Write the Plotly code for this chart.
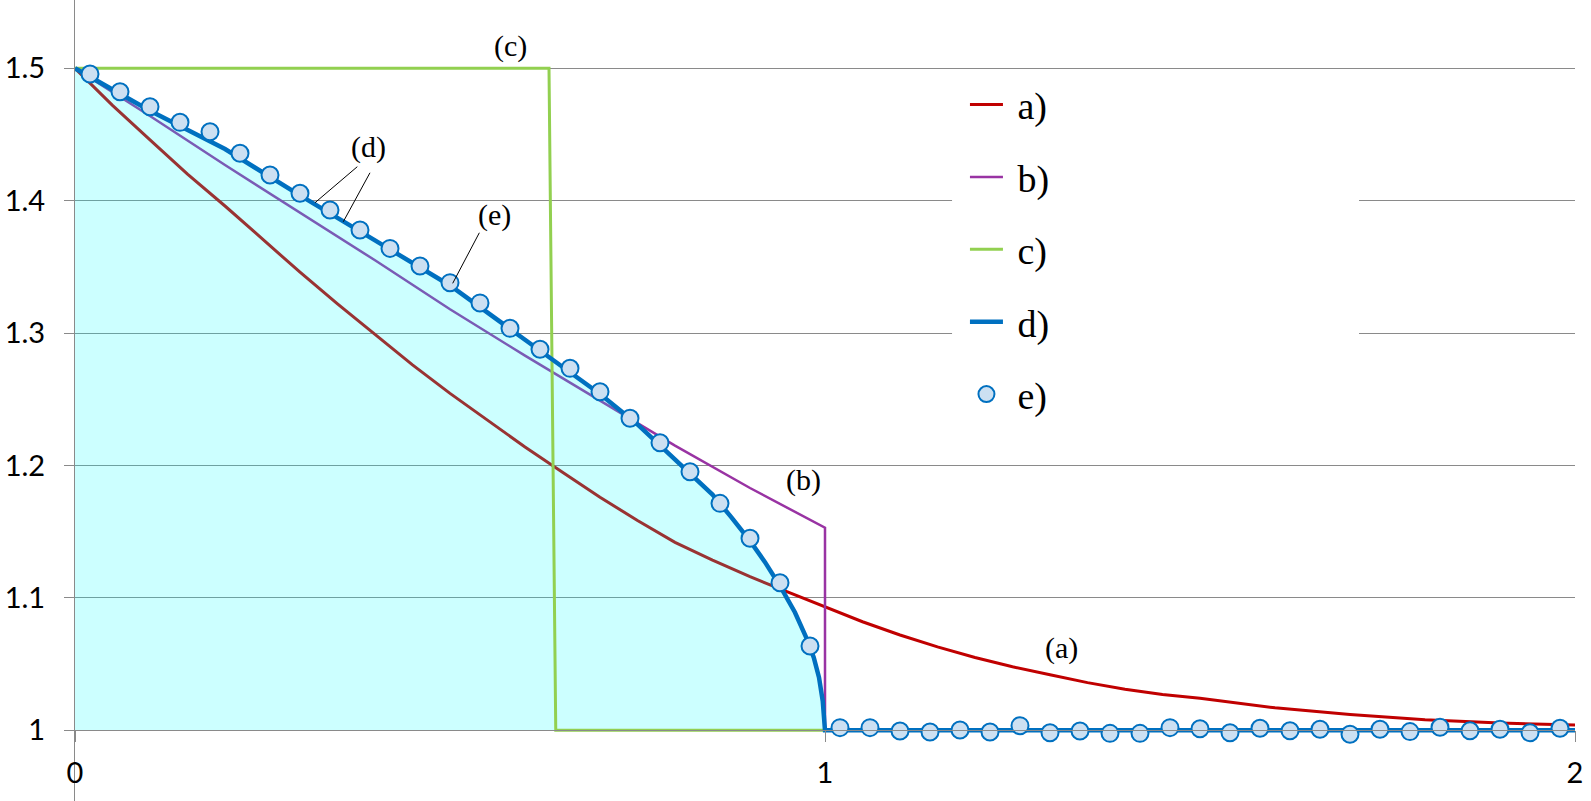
import plotly.graph_objects as go

# ---- data ----
a_x = [0, 0.05, 0.1, 0.15, 0.2, 0.25, 0.3, 0.35, 0.4, 0.45, 0.5, 0.55, 0.6, 0.65, 0.7, 0.75,
       0.8, 0.85, 0.9, 0.95, 1.0, 1.05, 1.1, 1.15, 1.2, 1.25, 1.3, 1.35, 1.4, 1.45, 1.5,
       1.6, 1.7, 1.8, 1.9, 2.0]
a_y = [1.5, 1.472, 1.446, 1.420, 1.396, 1.371, 1.346, 1.322, 1.299, 1.276, 1.2545, 1.234,
       1.214, 1.195, 1.176, 1.1585, 1.142, 1.1285, 1.116, 1.1045, 1.0934, 1.082, 1.072, 1.063,
       1.055, 1.048, 1.042, 1.036, 1.031, 1.027, 1.0242, 1.017, 1.012, 1.008, 1.0055, 1.004]

b_x = [0, 0.1, 0.2, 0.3, 0.4, 0.5, 0.6, 0.7, 0.8, 0.9, 1.0, 1.0]
b_y = [1.5, 1.464, 1.427, 1.391, 1.355, 1.318, 1.283, 1.249, 1.215, 1.183, 1.153, 1.0]

c_x = [0, 0.632, 0.641, 1.0]
c_y = [1.5, 1.5, 1.0, 1.0]

d_x = [0, 0.05, 0.1, 0.2, 0.3, 0.4, 0.5, 0.6, 0.7, 0.75, 0.8, 0.85, 0.875, 0.9, 0.92,
       0.94, 0.96, 0.975, 0.985, 0.992, 0.997, 1.0, 2.0]
d_y = [1.5, 1.484, 1.468, 1.439, 1.404, 1.370, 1.336, 1.295, 1.254, 1.231, 1.205, 1.178,
       1.161, 1.143, 1.127, 1.109, 1.089, 1.070, 1.055, 1.040, 1.022, 1.0, 1.0]

e_x = [round(0.02 + 0.04 * i, 2) for i in range(50)]
e_y = [1.4957, 1.4823, 1.4710, 1.4592, 1.4521, 1.4358, 1.4194, 1.4056, 1.3930, 1.3779,
       1.3640, 1.3507, 1.3381, 1.3228, 1.3036, 1.2878, 1.2734, 1.2557, 1.2357, 1.2172,
       1.1953, 1.1714, 1.1450, 1.1115, 1.0637,
       1.0020, 1.0020, 0.9995, 0.9987, 1.0002, 0.9987, 1.0035, 0.9982, 0.9995, 0.9977,
       0.9977, 1.0020, 1.0012, 0.9982, 1.0015, 0.9997, 1.0008, 0.9970, 1.0008, 0.9990,
       1.0023, 0.9997, 1.0008, 0.9982, 1.0015]

series_names = ["a)", "b)", "c)", "d)", "e)"]

y_ticks = [1.0, 1.1, 1.2, 1.3, 1.4, 1.5]
y_ticktext = ["1", "1.1", "1.2", "1.3", "1.4", "1.5"]
x_ticks = [0, 1, 2]
x_ticktext = ["0", "1", "2"]

Y_RANGE = [0.9466, 1.5516]

RED = "#C00000"
PURPLE = "#9933A3"
GREEN = "#92D050"
BLUE = "#0070C0"
GRID = "#8A8A8A"
SERIF = "Liberation Serif, Times New Roman, serif"
SANS = "Lato, Open Sans, sans-serif"
NB = "\u00a0"

fig = go.Figure()

fig.add_trace(go.Scatter(x=a_x, y=a_y, mode="lines", name=NB + series_names[0], legendgroup="a",
                         line=dict(color=RED, width=3)))
fig.add_trace(go.Scatter(x=b_x, y=b_y, mode="lines", name=NB + series_names[1], legendgroup="b",
                         line=dict(color=PURPLE, width=2.5)))

# shaded area under d) between x=0 and x=1
fill_x = [x for x in d_x if x <= 1.0]
fill_y = [y for x, y in zip(d_x, d_y) if x <= 1.0]
fig.add_trace(go.Scatter(x=[fill_x[0], fill_x[-1]], y=[1.0, 1.0], mode="lines",
                         line=dict(width=0), showlegend=False, hoverinfo="skip"))
fig.add_trace(go.Scatter(x=fill_x, y=fill_y, mode="lines", fill="tonexty",
                         fillcolor="rgba(0,255,255,0.2)", line=dict(width=0),
                         showlegend=False, hoverinfo="skip"))

fig.add_trace(go.Scatter(x=c_x, y=c_y, mode="lines", name=NB + series_names[2], legendgroup="c",
                         line=dict(color=GREEN, width=3)))
fig.add_trace(go.Scatter(x=d_x, y=d_y, mode="lines", name=NB + series_names[3], legendgroup="d",
                         line=dict(color=BLUE, width=4.5)))
fig.add_trace(go.Scatter(x=e_x, y=e_y, mode="markers", name=NB + series_names[4], legendgroup="e",
                         marker=dict(size=17, color="#CCE0F2",
                                     line=dict(color=BLUE, width=2))))

# labels on curves
labels = [("(c)", 0.5805, 1.5171), ("(d)", 0.3916, 1.4403), ("(e)", 0.5591, 1.3892),
          ("(b)", 0.9711, 1.189), ("(a)", 1.3156, 1.0619)]
for t, lx, ly in labels:
    fig.add_annotation(x=lx, y=ly, text=t, showarrow=False,
                       font=dict(family=SERIF, size=30, color="black"))

leaders = [((0.3764, 1.4257), (0.32, 1.3985)),
           ((0.3933, 1.4211), (0.3577, 1.3841)),
           ((0.5391, 1.3758), (0.5036, 1.3376))]
for (x0, y0), (x1, y1) in leaders:
    fig.add_shape(type="line", x0=x0, y0=y0, x1=x1, y1=y1, xref="x", yref="y",
                  line=dict(color="black", width=1))

# white legend box background (hides gridlines behind the legend)
fig.add_shape(type="rect", xref="paper", yref="paper", x0=0.5847, x1=0.856,
              y0=0.451, y1=0.90, fillcolor="white", line=dict(width=0), layer="above")

pos_x_axis = (1.0 - Y_RANGE[0]) / (Y_RANGE[1] - Y_RANGE[0])

fig.update_layout(
    template="none",
    width=1591, height=801,
    margin=dict(l=75, r=16, t=0, b=0, autoexpand=False),
    paper_bgcolor="white", plot_bgcolor="white",
    showlegend=True,
    legend=dict(x=0.5933, y=0.9085, xanchor="left", yanchor="top",
                bgcolor="rgba(255,255,255,0)", borderwidth=0,
                font=dict(family=SERIF, size=38, color="black"),
                tracegroupgap=20, itemwidth=33),
    xaxis=dict(range=[0, 2], tickvals=x_ticks, ticktext=x_ticktext,
               anchor="free", position=pos_x_axis,
               showline=True, linecolor=GRID, linewidth=1,
               ticks="outside", ticklen=11, tickcolor=GRID, tickwidth=1,
               ticklabelstandoff=6,
               showgrid=False, zeroline=False, automargin=False,
               tickfont=dict(family=SANS, size=29, color="black")),
    yaxis=dict(range=Y_RANGE, tickvals=y_ticks, ticktext=y_ticktext,
               showline=True, linecolor=GRID, linewidth=1,
               ticks="outside", ticklen=10, tickcolor=GRID, tickwidth=1,
               ticklabelstandoff=13,
               showgrid=True, gridcolor=GRID, gridwidth=1, zeroline=False, automargin=False,
               tickfont=dict(family=SANS, size=29, color="black")),
)

fig.write_html("out.html", config={"displayModeBar": False},
               post_script="document.body.style.margin='0px';document.body.style.overflow='hidden';")
